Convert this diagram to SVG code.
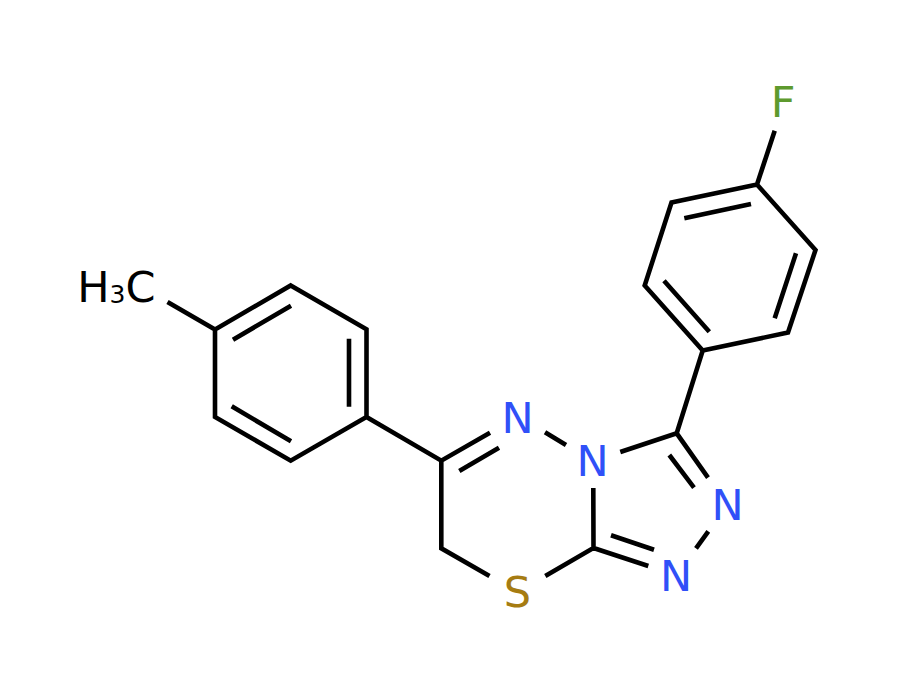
<svg xmlns="http://www.w3.org/2000/svg" width="900" height="680" viewBox="0 0 900 680">
<style>
.b{stroke:#000;stroke-width:4.6;stroke-linecap:butt;stroke-linejoin:miter;fill:none}
text{font-family:"DejaVu Sans",sans-serif;font-size:43px;text-anchor:middle}
.n{fill:#3050F8}
</style>
<rect width="900" height="680" fill="#fff"/>
<g id="bonds">
<path class="b" d="M167.5 302L215 329.5M290.7 285.5L366.5 329.3V417L290.7 460.7L215 417V329.5ZM291 305.7L233 339.7M349 338.7V406.7M291 441.3L231.7 406.3M366.5 417L441.3 460.7L490 432.7M459.3 471L499 447.7M545 432.3L566 445M441.3 460.7V548.3L489.5 576M545.3 576L593.5 548L593.3 488M593.5 548L648.3 566M611 535.3L654 549.7M620.3 452L676.7 433.3L708 477.7M669.3 455L694 487.7M708.3 531.3L696 548.3M676.7 433.3L702.7 350.5M702.7 350.5L788 332.5L815.5 250L757 184.5L671.5 202.5L644.7 285.5ZM751 204L684.3 218.3M796 253.3L774.7 318.3M664 280.7L709.3 331.7M757 184.5L774.7 130.7"/>
</g>
<g id="atom-F"><text x="783" y="117" fill="#5E9A2E">F</text></g>
<g id="atom-CH3"><text x="77.2" y="301.5" style="text-anchor:start" fill="#000">H<tspan font-size="25" dy="1">3</tspan><tspan dy="-1">C</tspan></text></g>
<g id="atom-N1"><text class="n" x="517.5" y="433">N</text></g>
<g id="atom-N2"><text class="n" x="592.7" y="476">N</text></g>
<g id="atom-N3"><text class="n" x="727.5" y="520">N</text></g>
<g id="atom-N4"><text class="n" x="676" y="590.7">N</text></g>
<g id="atom-S"><text x="517.5" y="607" fill="#A67C12">S</text></g>
</svg>
